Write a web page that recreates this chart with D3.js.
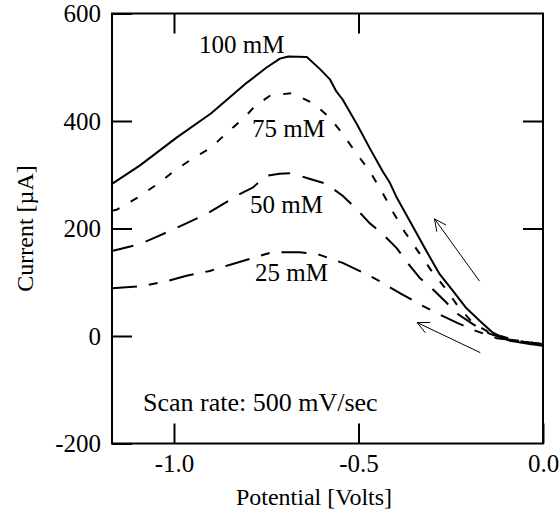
<!DOCTYPE html>
<html>
<head>
<meta charset="utf-8">
<script src="https://cdn.jsdelivr.net/npm/d3@7"></script>
<style>
html,body{margin:0;padding:0;background:#fff;}
svg text{font-family:"Liberation Serif","Times New Roman",serif;fill:#000;}
</style>
</head>
<body>
<svg id="chart" width="560" height="515"></svg>
<script>
// ---- data ----
const v100 = [-1.168,-1.093,-0.993,-0.90,-0.803,-0.75,-0.713,-0.69,-0.64,-0.605,-0.578,-0.56,-0.543,-0.505,-0.47,-0.435,-0.415,-0.396,-0.361,-0.316,-0.28,-0.244,-0.208,-0.171,-0.136,-0.09,-0.036,0];
const i100 = [283,317,369,414,471,499,516,520,519,497,478,455,440,395,350,307,285,257,214,158,115,84,52,28,6,-9,-15,-18];
const v75 = [-1.168,-1.155,-1.10,-1.04,-1.0,-0.95,-0.90,-0.86,-0.81,-0.78,-0.74,-0.68,-0.62,-0.578,-0.543,-0.505,-0.47,-0.436,-0.405,-0.375,-0.339,-0.304,-0.264,-0.231,-0.19,-0.144,-0.071,0];
const i75 = [233,235,257,285,307,330,350,376,406,428,447,452,432,406,376,339,307,268,229,194,158,123,88,56,24,6,-9,-16];
const v50 = [-1.168,-1.093,-1.052,-0.993,-0.912,-0.822,-0.787,-0.749,-0.714,-0.68,-0.64,-0.587,-0.543,-0.505,-0.47,-0.435,-0.397,-0.367,-0.334,-0.302,-0.266,-0.231,-0.19,-0.144,-0.09,0];
const i50 = [158,171,183,201,227,264,276,298,302,303,294,283,261,236,210,190,164,136,108,89,65,41,22,4,-8,-15];
const v25 = [-1.168,-1.085,-1.02,-0.966,-0.903,-0.841,-0.787,-0.733,-0.66,-0.605,-0.543,-0.478,-0.443,-0.383,-0.326,-0.289,-0.231,-0.18,-0.126,-0.063,0];
const i25 = [89,93,102,112,121,134,145,156,156,151,136,115,102,78,56,43,24,9,-4,-9,-15];
const seriesNames = ["100 mM","75 mM","50 mM","25 mM"];
const xTicks = [-1.0,-0.5,0.0];
const yTicks = [-200,0,200,400,600];
const xTitle = "Potential [Volts]";
const yTitle = "Current [µA]";
const note = "Scan rate: 500 mV/sec";
// arrows: [fromV, fromI, toV, toI]
const arrowUp = [-0.172,102,-0.294,218];
const arrowDown = [-0.17,-31,-0.341,25];

// ---- layout ----
const L=112, R=543, T=13.5, B=443.5;
const svg = d3.select("#chart");
const x = d3.scaleLinear().domain([-1.168,0]).range([L,R]);
const y = d3.scaleLinear().domain([-200,600]).range([B,T]);
const FS = 25;

// frame
svg.append("rect").attr("x",L).attr("y",T).attr("width",R-L).attr("height",B-T)
  .attr("fill","none").attr("stroke","#000").attr("stroke-width",2);

function styleAxis(g){
  g.select(".domain").remove();
  g.selectAll(".tick line").attr("stroke","#000").attr("stroke-width",2);
  g.selectAll(".tick text").style("font-size",FS+"px").attr("fill","#000");
}
svg.append("g").attr("transform",`translate(0,${B})`)
  .call(d3.axisBottom(x).tickValues(xTicks).tickSize(-20).tickPadding(11).tickFormat(d=>d.toFixed(1)))
  .call(styleAxis);
svg.append("g").attr("transform",`translate(0,${T})`)
  .call(d3.axisTop(x).tickValues(xTicks.slice(0,2)).tickSize(-20).tickFormat(""))
  .call(styleAxis);
svg.append("g").attr("transform",`translate(${L},0)`)
  .call(d3.axisLeft(y).tickValues(yTicks).tickSize(-20).tickPadding(11).tickFormat(d=>String(d)))
  .call(styleAxis);
svg.append("g").attr("transform",`translate(${R},0)`)
  .call(d3.axisRight(y).tickValues([200,400]).tickSize(-20).tickFormat(""))
  .call(styleAxis);

// curves
const line = d3.line().x(d=>x(d[0])).y(d=>y(d[1]));
const curves = [
  {v:v100,i:i100,dash:null},
  {v:v75,i:i75,dash:"8,13"},
  {v:v50,i:i50,dash:"22,13"},
  {v:v25,i:i25,dash:"25,12,9,12"}
];
curves.forEach(c=>{
  const pts = c.v.map((v,k)=>[v,c.i[k]]);
  svg.append("path").datum(pts).attr("d",line)
    .attr("fill","none").attr("stroke","#000").attr("stroke-width",2)
    .attr("stroke-linejoin","round")
    .attr("stroke-dasharray",c.dash);
});

// series labels
const labelPos = [[199,53],[252,137],[250,213],[255,281]];
seriesNames.forEach((n,k)=>{
  svg.append("text").attr("x",labelPos[k][0]).attr("y",labelPos[k][1])
    .style("font-size",FS+"px").text(n);
});

// arrows
function arrow(a){
  const x1=x(a[0]), y1=y(a[1]), x2=x(a[2]), y2=y(a[3]);
  svg.append("line").attr("x1",x1).attr("y1",y1).attr("x2",x2).attr("y2",y2)
    .attr("stroke","#000").attr("stroke-width",1);
  const ang = Math.atan2(y1-y2,x1-x2), len=13, spread=0.45;
  [ang-spread, ang+spread].forEach(t=>{
    svg.append("line").attr("x1",x2).attr("y1",y2)
      .attr("x2",x2+len*Math.cos(t)).attr("y2",y2+len*Math.sin(t))
      .attr("stroke","#000").attr("stroke-width",1);
  });
}
arrow(arrowUp);
arrow(arrowDown);

// note
svg.append("text").attr("x",143).attr("y",411).style("font-size","26px").text(note);

// titles
svg.append("text").attr("x",314).attr("y",505).attr("text-anchor","middle")
  .style("font-size","24px").text(xTitle);
svg.append("text").attr("transform",`translate(33,${(T+B)/2}) rotate(-90)`)
  .attr("text-anchor","middle").style("font-size","24px").text(yTitle);
</script>
</body>
</html>
